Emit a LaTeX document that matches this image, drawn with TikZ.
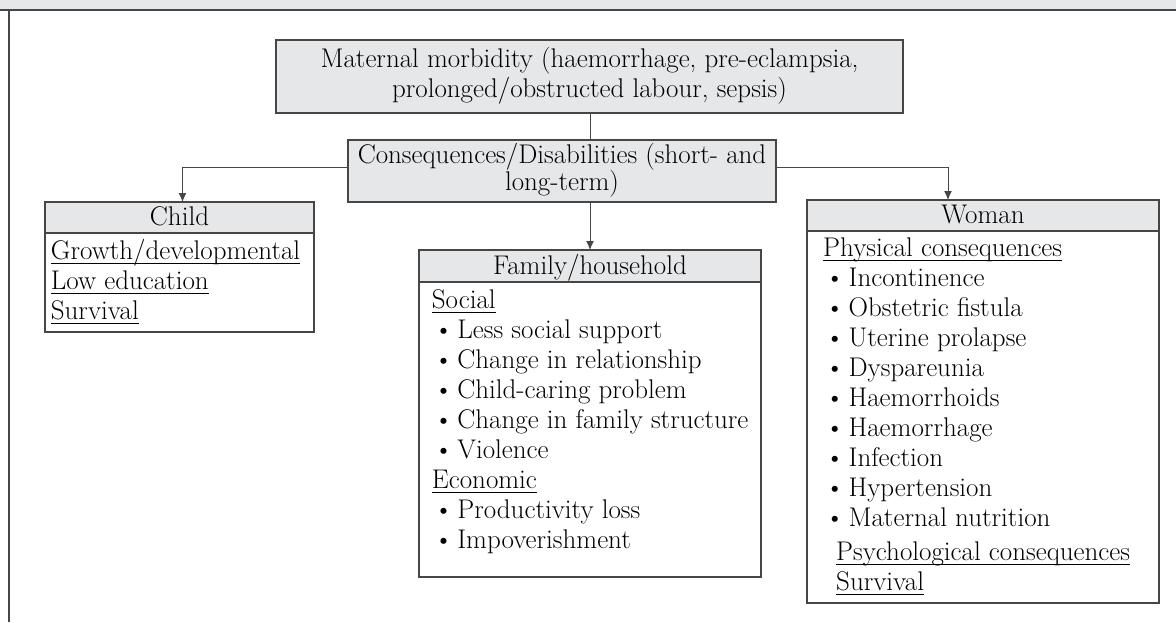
\documentclass[tikz,border=0pt]{standalone}
\usepackage{tikz}
\usetikzlibrary{positioning,arrows.meta}

\definecolor{panelgray}{RGB}{230,231,232}
\definecolor{edgegray}{RGB}{70,70,70}
\newcommand{\bodysize}{\fontsize{27}{30}\selectfont}
\newcommand{\heading}[1]{\setbox0\hbox{#1}\rlap{\rule[-4.5pt]{\wd0}{0.9pt}}\box0}
\newcommand{\bul}{\hspace*{2pt}\textbullet\hspace{4pt}}

\begin{document}
\begin{tikzpicture}[x=1pt,y=-1pt,
   font=\bodysize,
   box/.style={draw=edgegray,line width=1.3pt,fill=panelgray,align=center,inner sep=0pt,outer sep=0pt},
   head/.style={box,anchor=north west,minimum height=31pt,text height=22pt,text depth=6pt},
   frame/.style={draw=edgegray,line width=1.3pt,inner sep=0pt,outer sep=0pt},
   list/.style={anchor=north west,align=left,inner sep=0pt},
   link/.style={-{Latex[length=9pt,width=8pt]},draw=edgegray,line width=1pt}]
\useasboundingbox (0,0) rectangle (1176,622);
% title strip and left rule
\fill[panelgray] (0,0) rectangle (1176,10);
\draw[edgegray,line width=1.3pt] (0,10) -- (1176,10);
\draw[edgegray,line width=1.3pt] (9,10) -- (9,622);

\node[box,minimum width=627pt,minimum height=73pt] (morb) at (589.5,76.5)
   {\strut Maternal morbidity (haemorrhage, pre-eclampsia,\\\strut prolonged/obstructed labour, sepsis)};
\node[box,minimum width=428pt,minimum height=62pt] (cons) at (562,171)
   {\strut Consequences/Disabilities (short- and\\[-3pt]\strut long-term)};

% child
\node[head,minimum width=269pt] (childhead) at (45,202) {Child};
\node[frame,minimum width=269pt,minimum height=99pt,below=0pt of childhead] (childbox) {};
\node[list] (childtext) at (50.7,238) {\strut\heading{Growth/developmental}\\
   \heading{Low education}\\
   \heading{Survival}};

% family
\node[head,minimum width=342pt,minimum height=32pt] (famhead) at (419,250) {Family/household};
\node[frame,minimum width=342pt,minimum height=295pt,below=0pt of famhead] (fambox) {};
\node[list] (famtext) at (431.7,287) {\strut\heading{Social}\\
   \bul Less social support\\
   \bul Change in relationship\\
   \bul Child-caring problem\\
   \bul Change in family structure\\
   \bul Violence\\
   \heading{Economic}\\
   \bul Productivity loss\\
   \bul Impoverishment};

% woman
\node[head,minimum width=352pt] (womanhead) at (807,200) {Woman};
\node[frame,minimum width=352pt,minimum height=372pt,below=0pt of womanhead] (womanbox) {};
\node[list] (womantext) at (823,235) {\strut\heading{Physical consequences}\\
   \bul Incontinence\\
   \bul Obstetric fistula\\
   \bul Uterine prolapse\\
   \bul Dyspareunia\\
   \bul Haemorrhoids\\
   \bul Haemorrhage\\
   \bul Infection\\
   \bul Hypertension\\
   \bul Maternal nutrition\\[4pt]
   \hspace*{13pt}\heading{Psychological consequences}\\
   \hspace*{13pt}\heading{Survival}};

% connectors
\draw[edgegray,line width=1pt] (morb.south -| famhead.north) -- (cons.north -| famhead.north);
\draw[link] (cons.south -| famhead.north) -- (famhead.north);
\draw[link] ([yshift=4pt]cons.west) -| ([xshift=3pt]childhead.north);
\draw[link] ([yshift=4pt]cons.east) -| ([xshift=-35pt]womanhead.north);
\end{tikzpicture}
\end{document}
